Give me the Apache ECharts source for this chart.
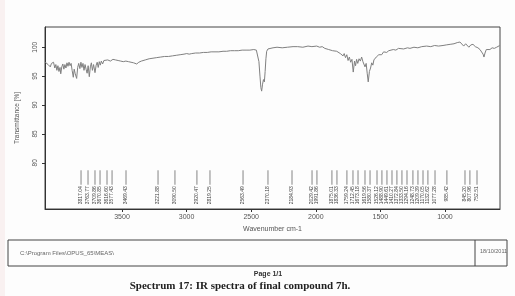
<!DOCTYPE html>
<html lang="en">
<head>
  <meta charset="UTF-8">
  <title>IR spectrum 7h</title>
  <script src="https://cdn.jsdelivr.net/npm/echarts@6.0.0/dist/echarts.min.js"></script>
  <style>
    html, body { margin: 0; padding: 0; background: #fdfdfd; }
    #chart { width: 515px; height: 296px; }
  </style>
</head>
<body>
  <div id="chart"></div>
  <script>
    // spectrum: wavenumber (cm-1) and transmittance (%)
    const waves = [4094, 4082, 4072, 4064, 4055, 4046, 4038, 4030, 4020, 4012, 4004, 3996, 3988, 3980, 3974, 3966,
      3958, 3950, 3942, 3934, 3926, 3918, 3910, 3902, 3894, 3886, 3877, 3870, 3862, 3851, 3843, 3835, 3826, 3818,
      3810, 3802, 3794, 3786, 3778, 3770, 3762, 3753, 3745, 3737, 3729, 3720, 3709, 3700, 3692, 3684, 3676, 3668,
      3660, 3650, 3640, 3625, 3610, 3590, 3570, 3550, 3530, 3510, 3490, 3470, 3450, 3430, 3410, 3386, 3370, 3350,
      3320, 3290, 3260, 3231, 3200, 3170, 3140, 3110, 3080, 3050, 3020, 2999, 2980, 2960, 2930, 2900, 2870, 2840,
      2810, 2780, 2750, 2718, 2690, 2660, 2630, 2600, 2570, 2540, 2510, 2480, 2460, 2448, 2440, 2432, 2425, 2419,
      2412, 2405, 2398, 2392, 2386, 2380, 2370, 2355, 2331, 2300, 2260, 2220, 2176, 2140, 2100, 2060, 2030, 1993,
      1970, 1950, 1930, 1916, 1900, 1885, 1870, 1855, 1838, 1825, 1810, 1800, 1789, 1780, 1770, 1760, 1750, 1740,
      1730, 1720, 1710, 1700, 1692, 1684, 1675, 1665, 1655, 1645, 1635, 1627, 1619, 1610, 1602, 1594, 1585, 1576,
      1567, 1558, 1550, 1542, 1532, 1522, 1512, 1503, 1490, 1475, 1460, 1451, 1435, 1420, 1400, 1380, 1360, 1348,
      1320, 1290, 1271, 1240, 1210, 1180, 1142, 1110, 1080, 1050, 1015, 990, 960, 930, 905, 884, 870, 855, 840,
      832, 815, 800, 783, 765, 745, 729, 715, 705, 698, 690, 680, 665, 652, 635, 618, 600, 585, 576];
    const trans = [97.4, 97.5, 97.0, 97.3, 96.6, 97.2, 96.9, 97.4, 96.4, 97.0, 96.0, 96.8, 95.8, 96.5, 95.4, 96.6,
      97.1, 96.2, 97.0, 96.4, 97.3, 96.7, 97.4, 96.8, 97.2, 96.0, 94.8, 96.2, 95.4, 94.6, 96.5, 97.2, 96.3, 97.4,
      96.5, 97.2, 96.0, 97.0, 96.2, 95.5, 96.8, 94.9, 96.6, 97.3, 96.0, 97.0, 95.6, 96.9, 97.4, 96.5, 97.5, 96.9,
      97.6, 97.1, 97.7, 97.4, 97.8, 97.6, 97.9, 97.8, 97.7, 97.6, 97.5, 97.6, 97.5, 97.4, 97.3, 97.1, 97.4, 97.6,
      97.8, 98.0, 98.1, 98.2, 98.3, 98.4, 98.4, 98.5, 98.6, 98.7, 98.8, 98.9, 98.8, 98.9, 99.0, 99.0, 99.1, 99.1,
      99.2, 99.2, 99.2, 99.3, 99.3, 99.4, 99.4, 99.4, 99.5, 99.5, 99.5, 99.6, 99.5, 99.2, 97.5, 95.0, 93.0, 92.4,
      93.6, 94.4, 94.0, 95.8, 98.0, 99.3, 99.7, 99.8, 99.9, 100.0, 99.9, 100.0, 100.1, 100.1, 100.0, 100.2, 100.1, 100.2,
      100.0, 100.1, 99.8, 100.0, 99.6, 99.9, 99.4, 99.7, 99.3, 99.6, 98.9, 99.2, 98.5, 98.9, 98.2, 98.7, 97.7, 98.3,
      97.4, 97.9, 95.7, 97.6, 96.8, 97.9, 97.2, 98.0, 97.6, 98.3, 97.5, 97.8, 96.6, 97.2, 95.5, 94.0, 95.8, 96.4,
      97.3, 96.9, 97.8, 97.9, 98.3, 98.0, 98.7, 98.9, 98.7, 99.2, 98.9, 99.1, 99.4, 99.3, 99.6, 99.5, 99.8, 99.8,
      99.7, 99.9, 99.8, 100.0, 99.9, 100.1, 100.2, 100.1, 100.3, 100.2, 100.3, 100.4, 100.5, 100.6, 100.8, 100.9, 100.6, 100.2, 100.6,
      100.3, 100.0, 100.4, 100.5, 100.1, 99.9, 99.6, 99.4, 98.8, 98.3, 99.0, 99.6, 99.8, 99.6, 99.9, 99.8, 100.0, 100.2, 100.3];

    // peak picks printed under the trace
    const peakWn = [3817, 3763, 3709, 3670, 3616, 3577, 3469, 3221, 3090, 2920, 2819, 2563, 2370, 2184, 2029, 1991,
      1875, 1836, 1759, 1712, 1673, 1619, 1580, 1526, 1488, 1449, 1410, 1372, 1333, 1294, 1248, 1209, 1170, 1132,
      1077, 985, 845, 807, 752];
    const peakLabels = ['3817.04', '3763.77', '3709.86', '3670.85', '3616.60', '3577.43', '3469.43', '3221.88',
      '3090.50', '2920.47', '2819.25', '2563.49', '2370.18', '2184.93', '2029.42', '1991.86', '1875.01', '1836.33',
      '1759.24', '1712.45', '1673.18', '1619.56', '1580.37', '1526.12', '1488.90', '1449.61', '1410.27', '1372.84',
      '1333.50', '1294.16', '1248.73', '1209.39', '1170.05', '1132.62', '1077.28', '985.42', '845.20', '807.96', '752.51'];

    const xTicks = [3500, 3000, 2500, 2000, 1500, 1000];
    const yTicks = [80, 85, 90, 95, 100];

    const lineTopT = 78.7;
    const lineBotT = 76.2;

    const chart = echarts.init(document.getElementById('chart'));
    chart.setOption({
      animation: false,
      backgroundColor: '#fdfdfd',
      grid: {
        left: 45, right: 15, top: 27, bottom: 87,
        show: true, borderColor: '#444', borderWidth: 1,
        outerBoundsMode: 'none'
      },
      xAxis: {
        type: 'value',
        inverse: true,
        min: 574,
        max: 4096,
        name: 'Wavenumber cm-1',
        nameLocation: 'middle',
        nameGap: 17,
        nameTextStyle: { fontSize: 7, color: '#555', fontFamily: 'Liberation Sans' },
        axisLine: { lineStyle: { color: '#333' } },
        axisTick: { customValues: xTicks, length: 3, lineStyle: { color: '#333' } },
        axisLabel: {
          customValues: xTicks, fontSize: 7, color: '#555', margin: 5, fontFamily: 'Liberation Sans',
          formatter: v => String(v)
        },
        splitLine: { show: false }
      },
      yAxis: {
        type: 'value',
        min: 72,
        max: 103.5,
        name: 'Transmittance [%]',
        nameLocation: 'middle',
        nameRotate: 90,
        nameGap: 24,
        nameTextStyle: { fontSize: 6.5, color: '#555', fontFamily: 'Liberation Sans' },
        axisLine: { show: true, lineStyle: { color: '#333' } },
        axisTick: { show: true, customValues: yTicks, length: 3, lineStyle: { color: '#333' } },
        axisLabel: { customValues: yTicks, rotate: 90, fontSize: 6.5, color: '#555', margin: 6, fontFamily: 'Liberation Sans' },
        splitLine: { show: false }
      },
      series: [
        {
          type: 'line',
          data: waves.map((w, i) => [w, trans[i]]),
          showSymbol: false,
          lineStyle: { color: '#808080', width: 1 }
        },
        {
          type: 'custom',
          data: peakWn.map(w => [w, 76]),
          encode: { x: 0, y: 1 },
          renderItem: function (params, api) {
            const w = api.value(0);
            const top = api.coord([w, lineTopT]);
            const bot = api.coord([w, lineBotT]);
            return {
              type: 'group',
              children: [
                {
                  type: 'line',
                  shape: { x1: top[0], y1: top[1], x2: bot[0], y2: bot[1] },
                  style: { stroke: '#666', lineWidth: 0.8 }
                },
                {
                  type: 'text',
                  x: bot[0],
                  y: bot[1] + 1.5,
                  rotation: Math.PI / 2,
                  style: {
                    text: peakLabels[params.dataIndex],
                    x: 0, y: 0,
                    align: 'right',
                    verticalAlign: 'middle',
                    fontSize: 5,
                    fill: '#444',
                    fontFamily: 'Liberation Sans'
                  }
                }
              ]
            };
          }
        }
      ],
      graphic: [
        { type: 'rect', left: 0, top: 0, shape: { width: 5, height: 296 }, style: { fill: '#f9f1f1' } },
        { type: 'rect', shape: { x: 8, y: 240, width: 499, height: 26 }, style: { fill: 'none', stroke: '#444', lineWidth: 1 } },
        { type: 'line', shape: { x1: 475, y1: 240, x2: 475, y2: 266 }, style: { stroke: '#444', lineWidth: 1 } },
        { type: 'text', x: 20, y: 253, style: { text: 'C:\\Program Files\\OPUS_65\\MEAS\\', fontSize: 6, fill: '#666', verticalAlign: 'middle', fontFamily: 'Liberation Sans' } },
        { type: 'text', x: 480, y: 251, style: { text: '18/10/2011', fontSize: 5.5, fill: '#666', verticalAlign: 'middle', fontFamily: 'Liberation Sans' } },
        { type: 'text', x: 268, y: 274, style: { text: 'Page 1/1', fontSize: 7, fontWeight: 'bold', fill: '#333', align: 'center', verticalAlign: 'middle', fontFamily: 'Liberation Sans' } },
        { type: 'text', x: 240, y: 286, style: { text: 'Spectrum 17: IR spectra of final compound 7h.', fontSize: 11, fontWeight: 'bold', fill: '#222', align: 'center', verticalAlign: 'middle', fontFamily: 'Liberation Serif' } }
      ]
    });
  </script>
</body>
</html>
